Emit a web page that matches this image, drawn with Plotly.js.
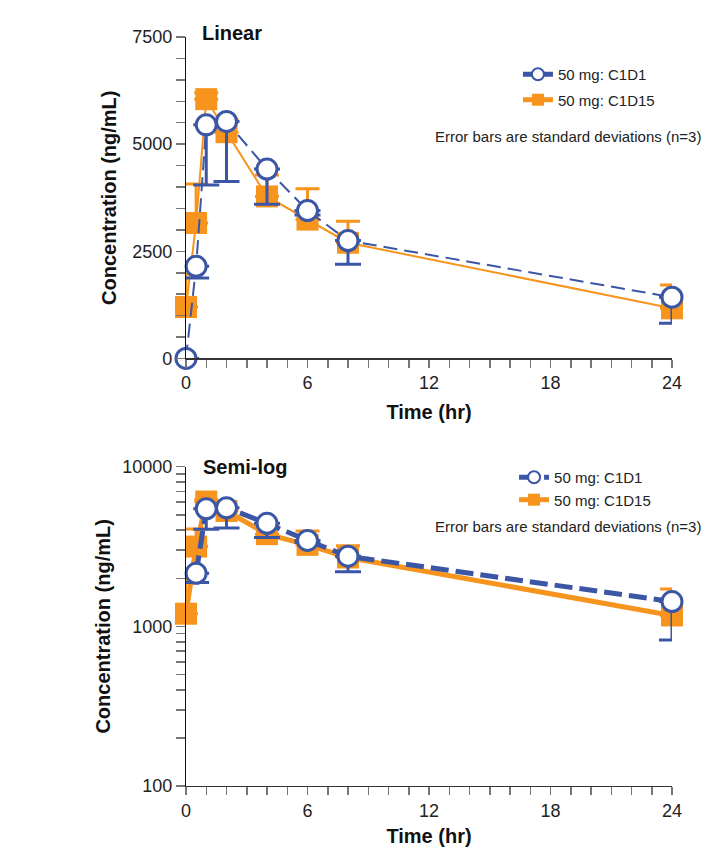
<!DOCTYPE html>
<html>
<head>
<meta charset="utf-8">
<script src="https://cdn.plot.ly/plotly-3.0.1.min.js"></script>
<style>html,body{margin:0;padding:0;background:#fff;}#chart{width:704px;height:847px;}</style>
</head>
<body>
<div id="chart"></div>
<script>
// Time points (hr)
const times = [0, 0.5, 1, 2, 4, 6, 8, 24];
// 50 mg C1D1 mean concentration (ng/mL) and SD
const c1d1Mean = [0, 2150, 5450, 5530, 4420, 3450, 2750, 1430];
const c1d1SD = [0, 270, 1400, 1400, 820, 100, 550, 610];
// 50 mg C1D15 mean concentration (ng/mL) and SD
const c1d15Mean = [1200, 3160, 6050, 5280, 3780, 3240, 2700, 1170];
const c1d15SD = [770, 910, 150, 300, 500, 720, 500, 545];
const zeros = [0, 0, 0, 0, 0, 0, 0, 0];

const xTickVals = [0, 6, 12, 18, 24];
const linTickVals = [0, 2500, 5000, 7500];
const logTickVals = [100, 1000, 10000];
const logMinorVals = [200, 300, 400, 500, 600, 700, 800, 900, 2000, 3000, 4000, 5000, 6000, 7000, 8000, 9000];

const BLUE = '#3c56a6';
const ORANGE = '#f7941d';
const FONT = '"Liberation Sans", Arial, Helvetica, sans-serif';

// values that cannot be shown on a log axis are dropped there
const forLog = arr => arr.map(v => (v > 0 ? v : null));

function orangeTrace(xa, ya, lw, leg, isLog) {
  return {
    x: times, y: isLog ? forLog(c1d15Mean) : c1d15Mean, xaxis: xa, yaxis: ya, type: 'scatter', mode: 'lines+markers',
    name: '50 mg: C1D15', legend: leg, legendgroup: leg + 'o', legendrank: 2,
    line: {color: ORANGE, width: lw},
    marker: {symbol: 'square', size: 22, color: ORANGE, line: {width: 0}},
    error_y: {type: 'data', symmetric: false, array: c1d15SD, arrayminus: zeros, color: ORANGE, thickness: 3, width: 12},
    cliponaxis: false
  };
}
function blueTrace(xa, ya, lw, dash, leg, isLog) {
  return {
    x: times, y: isLog ? forLog(c1d1Mean) : c1d1Mean, xaxis: xa, yaxis: ya, type: 'scatter', mode: 'lines+markers',
    name: '50 mg: C1D1', legend: leg, legendgroup: leg + 'b', legendrank: 1,
    connectgaps: false,
    line: {color: BLUE, width: lw, dash: dash},
    marker: {symbol: 'circle', size: 20, color: '#ffffff', line: {color: BLUE, width: 3}},
    error_y: {type: 'data', symmetric: false, array: zeros, arrayminus: c1d1SD, color: BLUE, thickness: 3, width: 13},
    cliponaxis: false
  };
}

const data = [
  orangeTrace('x', 'y', 2, 'legend', false),
  blueTrace('x', 'y', 2, '14px,7px', 'legend', false),
  orangeTrace('x2', 'y2', 5, 'legend2', true),
  blueTrace('x2', 'y2', 5, '18px,7px', 'legend2', true)
];

const tickFont = {family: FONT, size: 18, color: '#222'};
const titleFont = {family: FONT, size: 20, color: '#111', weight: 'bold'};

function xAxis(anchor) {
  return {
    anchor: anchor, domain: [0, 1], range: [0, 24], showgrid: false, zeroline: false,
    showline: true, linecolor: '#333', linewidth: 1.2,
    tickmode: 'array', tickvals: xTickVals, ticks: 'outside', ticklen: 8, tickcolor: '#777', tickwidth: 1.5,
    minor: {ticks: 'outside', ticklen: 8, tickcolor: '#777', tickwidth: 1.5, dtick: 1},
    tickfont: tickFont,
    title: {text: 'Time (hr)', font: titleFont, standoff: 12}
  };
}

const layout = {
  width: 704, height: 847,
  margin: {l: 186, r: 32, t: 37, b: 61},
  paper_bgcolor: '#fff', plot_bgcolor: '#fff',
  font: {family: FONT},
  xaxis: xAxis('y'),
  yaxis: {
    anchor: 'x', domain: [0.5708, 1], range: [0, 7500], showgrid: false, zeroline: false,
    showline: true, linecolor: '#111', linewidth: 1.2,
    tickmode: 'array', tickvals: linTickVals, ticks: 'outside', ticklen: 9, tickcolor: '#777', tickwidth: 1.5,
    minor: {ticks: 'outside', ticklen: 9, tickcolor: '#777', tickwidth: 1.5, dtick: 500},
    tickfont: tickFont,
    title: {text: 'Concentration (ng/mL)', font: titleFont, standoff: 10}
  },
  xaxis2: xAxis('y2'),
  yaxis2: {
    anchor: 'x2', domain: [0, 0.4263], type: 'log', range: [2, 4], showgrid: false, zeroline: false,
    showline: true, linecolor: '#111', linewidth: 1.2,
    tickmode: 'array', tickvals: logTickVals, ticktext: ['100', '1000', '10000'],
    ticks: 'outside', ticklen: 9, tickcolor: '#777', tickwidth: 1.5,
    minor: {ticks: 'outside', ticklen: 9, tickcolor: '#777', tickwidth: 1.5, tickmode: 'array', tickvals: logMinorVals},
    tickfont: tickFont,
    title: {text: 'Concentration (ng/mL)', font: titleFont, standoff: 6}
  },
  legend: {
    x: 0.683, xanchor: 'left', y: 0.972, yanchor: 'top',
    bgcolor: 'rgba(0,0,0,0)', font: {family: FONT, size: 15, color: '#222'},
    tracegroupgap: 3, itemsizing: 'constant'
  },
  legend2: {
    x: 0.675, xanchor: 'left', y: 0.434, yanchor: 'top',
    bgcolor: 'rgba(0,0,0,0)', font: {family: FONT, size: 15, color: '#222'},
    tracegroupgap: 0, itemsizing: 'constant'
  },
  annotations: [
    {text: 'Linear', xref: 'paper', yref: 'paper', x: 0.0947, y: 1.0053, xanchor: 'center', yanchor: 'middle',
     showarrow: false, font: {family: FONT, size: 20, color: '#111', weight: 'bold'}},
    {text: 'Semi-log', xref: 'paper', yref: 'paper', x: 0.1214, y: 0.4259, xanchor: 'center', yanchor: 'middle',
     showarrow: false, font: {family: FONT, size: 20, color: '#111', weight: 'bold'}},
    {text: 'Error bars are standard deviations (n=3)', xref: 'paper', yref: 'paper', x: 1.0638, y: 0.8678,
     xanchor: 'right', yanchor: 'middle', showarrow: false, font: {family: FONT, size: 15, color: '#222'}},
    {text: 'Error bars are standard deviations (n=3)', xref: 'paper', yref: 'paper', x: 1.0638, y: 0.3458,
     xanchor: 'right', yanchor: 'middle', showarrow: false, font: {family: FONT, size: 15, color: '#222'}}
  ]
};

Plotly.newPlot('chart', data, layout, {displayModeBar: false, staticPlot: true});
</script>
</body>
</html>
